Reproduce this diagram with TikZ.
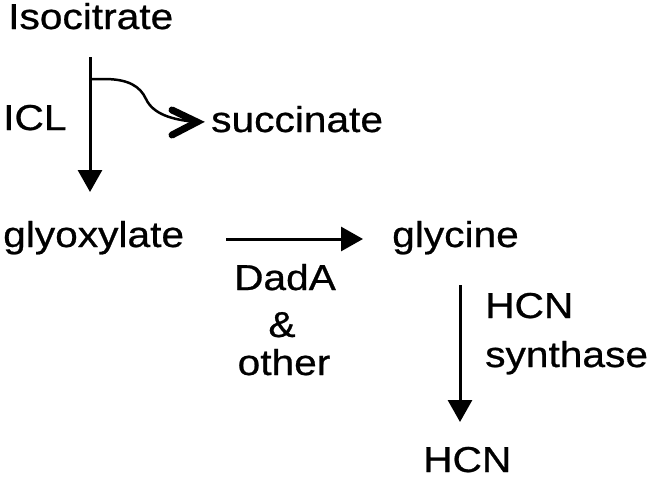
\documentclass[tikz,border=0pt]{standalone}
\usepackage{fontspec}
\setmainfont{Liberation Sans}[FakeStretch=1.13,FakeBold=0.7]
\usetikzlibrary{arrows.meta}
\tikzset{
  lbl/.style={anchor=base west, inner sep=0pt, font=\fontsize{36}{42}\selectfont},
  rxn/.style={draw, line width=3pt, -{Triangle[width=24pt,length=22pt]}},
  barb/.style={draw, line width=7pt, line cap=round, line join=miter},
}
\begin{document}
\begin{tikzpicture}[x=1pt,y=-1pt]
\useasboundingbox (0,0) rectangle (650,479);
\node[lbl] (iso) at (8,29) {Isocitrate};
\node[lbl] (icl) at (3,130) {ICL};
\node[lbl] (succ) at (211,132) {succinate};
\node[lbl] (glyox) at (3,247) {glyoxylate};
\node[lbl] (glycine) at (392,247) {glycine};
\node[lbl,anchor=base] (dada) at (285,290) {DadA};
\node[lbl,anchor=base] (amp) at (282,337) {\&};
\node[lbl,anchor=base] (other) at (284,375) {other};
\node[lbl] (hcnlab) at (485,318) {HCN};
\node[lbl] (synth) at (485,367) {synthase};
\node[lbl] (hcn) at (423,472) {HCN};

\coordinate (isoOut) at (90,57);
\coordinate (glyIn) at (90,192);
\coordinate (branch) at (90,79);
\coordinate (succIn) at (197,122);
\coordinate (glyOut) at (226,239);
\coordinate (glcIn) at (363,239);
\coordinate (glcOut) at (460,285);
\coordinate (hcnIn) at (460,422);

\path[rxn] (isoOut) -- (glyIn);
\path[draw,line width=2.5pt]
  (branch) -- (104,79) .. controls (128,79) and (140,86) .. (146,99)
  .. controls (153,114) and (172,120) .. (succIn);
\path[barb] (172,110) -- (succIn) -- (172,135);
\path[rxn] (glyOut) -- (glcIn);
\path[rxn] (glcOut) -- (hcnIn);
\end{tikzpicture}
\end{document}
